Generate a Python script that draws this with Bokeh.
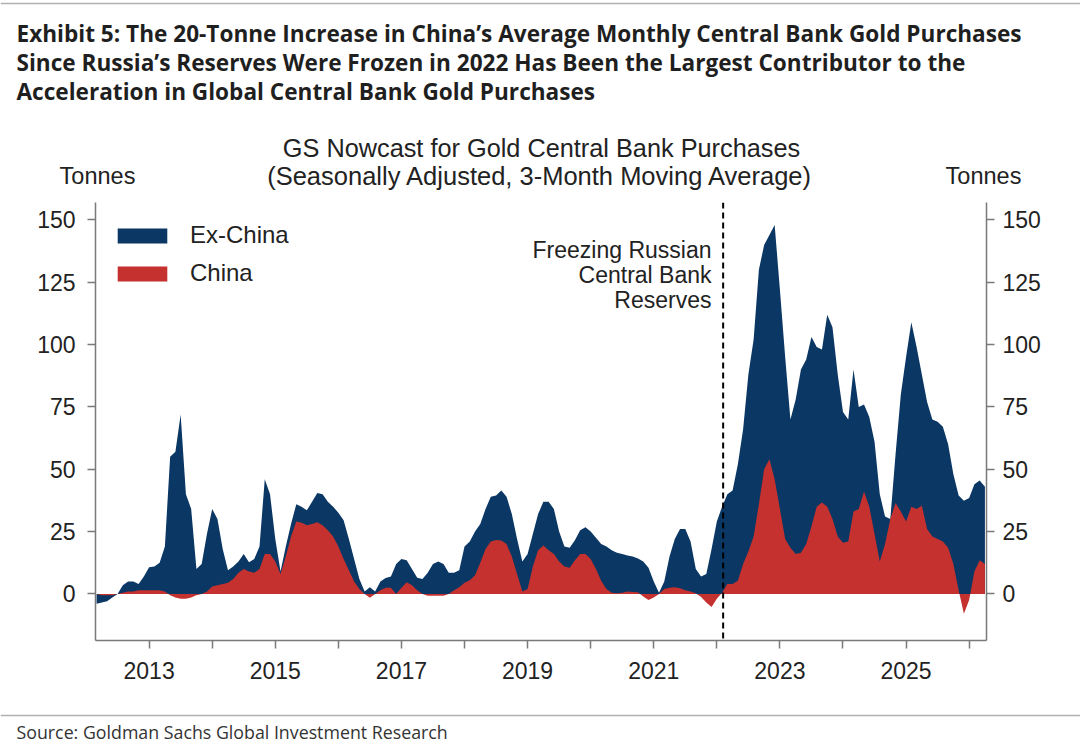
from bokeh.plotting import figure
from bokeh.layouts import column
from bokeh.models import (ColumnDataSource, Range1d, LinearAxis, FixedTicker, Span, Label,
                          Legend, LegendItem)
from bokeh.embed import file_html
from bokeh.resources import INLINE

# ---------------- data (monthly, 3m moving average, tonnes) ----------------
first_month = 2          # months after Jan 2012
total_2012 = [-4, -3.5, -3, -1.5, 0, 3.5, 5, 5, 4, 7]
total_2013 = [10.7, 11, 12.5, 19, 55, 57, 72, 40, 34, 10, 12, 24]
total_2014 = [34, 30, 18, 9.5, 11, 13, 16, 12.7, 14, 19, 46, 40]
total_2015 = [22, 9, 19, 28, 36, 35, 33.5, 37, 40.5, 40, 37, 35]
total_2016 = [32.5, 29.5, 22, 14, 6, 1, 2.7, 1, 5, 6.4, 7, 12]
total_2017 = [14, 13.5, 10, 6.5, 6, 8.5, 12, 13, 12, 8.5, 8.5, 9.5]
total_2018 = [19, 21, 25, 28, 34, 39, 39.5, 41.5, 39, 32, 22, 13]
total_2019 = [16, 24, 32, 37, 37, 34, 25, 19, 18.5, 21.5, 25.5, 26.7]
total_2020 = [25, 22.5, 20, 19, 17.5, 16.5, 16, 15.4, 15, 14.2, 13, 10.5]
total_2021 = [5, 0.5, 5, 15, 22, 26, 26, 21, 10, 7, 8, 18]
total_2022 = [29, 35, 40, 41.5, 52, 66, 88, 102, 130, 140, 144, 148]
total_2023 = [122, 95, 70, 78, 90, 94, 103, 99, 98, 112, 107, 88]
total_2024 = [73, 70, 90, 75, 76, 71, 61, 40, 31, 30, 56, 80]
total_2025 = [95, 109, 99, 88, 77, 70, 69, 67, 60, 48, 39.5, 37.4]
total_2026 = [38.5, 44, 45.5, 43]

china_2012 = [0, -0.5, -0.5, -0.5, 0, 0.5, 1, 1, 1.5, 1.5]
china_2013 = [1.5, 1.5, 1.5, 1, -0.5, -1.5, -2, -2, -1.5, -0.5, 0, 1]
china_2014 = [3, 3.5, 4, 4.5, 6, 8.5, 10, 9, 8.5, 10, 16, 16]
china_2015 = [13, 8, 15, 23, 29, 28.5, 27.5, 28, 28.7, 27.5, 25.5, 23]
china_2016 = [19, 14, 9.5, 5, 2, 0, -1.6, 0, 1.5, 2.5, 2.5, 0]
china_2017 = [2.5, 4.7, 3.5, 1.5, 0, -0.7, -0.7, -0.7, -0.7, 0, 1.5, 2.7]
china_2018 = [4.5, 5.5, 7.5, 12.5, 18, 21, 21.6, 21.4, 20, 15, 8, 1]
china_2019 = [2, 11, 17.5, 19.4, 17.5, 16, 13, 11, 10.5, 13.5, 16, 16]
china_2020 = [14, 10, 5.3, 2, 0.5, 0.3, 0.5, 1, 0.8, 0.7, -1, -2.5]
china_2021 = [-1.5, 0, 2, 2.5, 2.7, 2.3, 1.5, 1, 0.3, -1.3, -3.5, -5.3]
china_2022 = [-2, 0.5, 4, 4, 5.3, 12, 17, 23, 36, 50, 54, 46]
china_2023 = [34, 22, 18.5, 16, 16.5, 20, 27, 35, 36.7, 35, 30, 23]
china_2024 = [20.5, 21, 33, 34, 41, 35, 24, 13, 20, 30, 36.5, 33]
china_2025 = [29, 35, 34, 35.4, 26, 23, 22, 21, 18.5, 12, 1.5, -8]
china_2026 = [-2.5, 9, 13.5, 12]

x_ticks = list(range(2013, 2027))
y_ticks = [0, 25, 50, 75, 100, 125, 150]
event_date = 2022.1

total = (total_2012 + total_2013 + total_2014 + total_2015 + total_2016 + total_2017 + total_2018 +
         total_2019 + total_2020 + total_2021 + total_2022 + total_2023 + total_2024 + total_2025 + total_2026)
china = (china_2012 + china_2013 + china_2014 + china_2015 + china_2016 + china_2017 + china_2018 +
         china_2019 + china_2020 + china_2021 + china_2022 + china_2023 + china_2024 + china_2025 + china_2026)
years = [2012 + (first_month + i) / 12 for i in range(len(total))]

src = ColumnDataSource(dict(year=years, total=total, china=china))

NAVY = "#0b3764"
RED = "#c4312f"
AXIS = "#7a7a7a"
TXT = "#222222"
FONT = "Liberation Sans"
TF = "Open Sans"
W = 1080


def text_panel(height, y_top):
    f = figure(width=W, height=height, x_range=Range1d(0, W), y_range=Range1d(y_top + height, y_top),
               output_backend="svg", toolbar_location=None, title=None,
               x_axis_type=None, y_axis_type=None, min_border=0,
               min_border_left=0, min_border_right=0, min_border_top=0, min_border_bottom=0)
    f.frame_align = False
    f.grid.visible = False
    f.outline_line_color = None
    f.background_fill_color = "white"
    f.border_fill_color = "white"
    return f


def lab(fig, text, xi, yi, size, align="left", font=FONT, style="normal", color=TXT):
    fig.add_layout(Label(x=xi, y=yi, text=text, text_font=font, text_font_size=size,
                         text_font_style=style, text_color=color, text_align=align,
                         text_baseline="middle"))


# ---------------- header ----------------
head = text_panel(200, 0)
head.add_layout(Span(location=3, dimension="width", line_color="#b0b0b0", line_width=1.5))
TS = "22.6px"
lab(head, "Exhibit 5: The 20-Tonne Increase in China\u2019s Average Monthly Central Bank Gold Purchases",
    16, 33, TS, font=TF, style="bold", color="#1f1f1f")
lab(head, "Since Russia\u2019s Reserves Were Frozen in 2022 Has Been the Largest Contributor to the",
    16, 62, TS, font=TF, style="bold", color="#1f1f1f")
lab(head, "Acceleration in Global Central Bank Gold Purchases",
    16, 91, TS, font=TF, style="bold", color="#1f1f1f")
lab(head, "GS Nowcast for Gold Central Bank Purchases", 541, 147, "25.3px", align="center")
lab(head, "(Seasonally Adjusted, 3-Month Moving Average)", 540, 175, "25.5px", align="center")
lab(head, "Tonnes", 97, 175, "23.5px", align="center")
lab(head, "Tonnes", 983, 175, "23.5px", align="center")

# ---------------- main chart: frame x 95..986, y 202..640 ----------------
p = figure(width=W, height=510, x_range=Range1d(2012.15, 2026.275), y_range=Range1d(-18.7, 157),
           output_backend="svg", toolbar_location=None, title=None,
           min_border_left=95, min_border_right=94, min_border_top=2, min_border_bottom=70)
p.frame_align = False
p.grid.visible = False
p.outline_line_color = None
p.background_fill_color = "white"
p.border_fill_color = "white"

r_tot = p.varea(x="year", y1=0, y2="total", source=src, fill_color=NAVY)
r_chn = p.varea(x="year", y1=0, y2="china", source=src, fill_color=RED)


def style_axis(ax, standoff):
    ax.axis_line_color = AXIS
    ax.axis_line_width = 1.5
    ax.major_tick_line_color = AXIS
    ax.major_tick_line_width = 1.5
    ax.major_tick_out = 8
    ax.major_tick_in = 0
    ax.minor_tick_line_color = None
    ax.major_label_text_font = FONT
    ax.major_label_text_font_size = "23px"
    ax.major_label_text_color = TXT
    ax.major_label_standoff = standoff


p.yaxis.ticker = FixedTicker(ticks=y_ticks)
style_axis(p.yaxis[0], 12)
ry = LinearAxis(ticker=FixedTicker(ticks=y_ticks))
style_axis(ry, 8)
p.add_layout(ry, "right")

p.xaxis.ticker = FixedTicker(ticks=x_ticks)
p.xaxis.major_label_overrides = {t: (str(t) if t % 2 == 1 else "") for t in x_ticks}
style_axis(p.xaxis[0], 13)

p.add_layout(Span(location=event_date, dimension="height", line_color="black",
                  line_width=2, line_dash="6 4"))

legend = Legend(items=[LegendItem(label="Ex-China", renderers=[r_tot]),
                       LegendItem(label="China", renderers=[r_chn])],
                location=(16, 353), glyph_width=62, glyph_height=19, label_standoff=17,
                spacing=10, padding=0, margin=0, border_line_color=None,
                background_fill_alpha=0, label_text_font=FONT, label_text_font_size="24px",
                label_text_color=TXT)
p.add_layout(legend)

for txt, yi in (("Freezing Russian", 249), ("Central Bank", 274), ("Reserves", 299)):
    p.add_layout(Label(x=711 - 95, y=640 - yi, x_units="screen", y_units="screen", text=txt,
                       text_font=FONT, text_font_size="23px", text_color=TXT,
                       text_align="right", text_baseline="middle"))

# ---------------- footer ----------------
foot = text_panel(46, 710)
foot.add_layout(Span(location=715, dimension="width", line_color="#b0b0b0", line_width=1.5))
lab(foot, "Source: Goldman Sachs Global Investment Research", 16, 731, "17.8px", font=TF, color="#333333")

layout = column(head, p, foot, spacing=0)
open("out.html", "w").write(file_html(layout, INLINE))
